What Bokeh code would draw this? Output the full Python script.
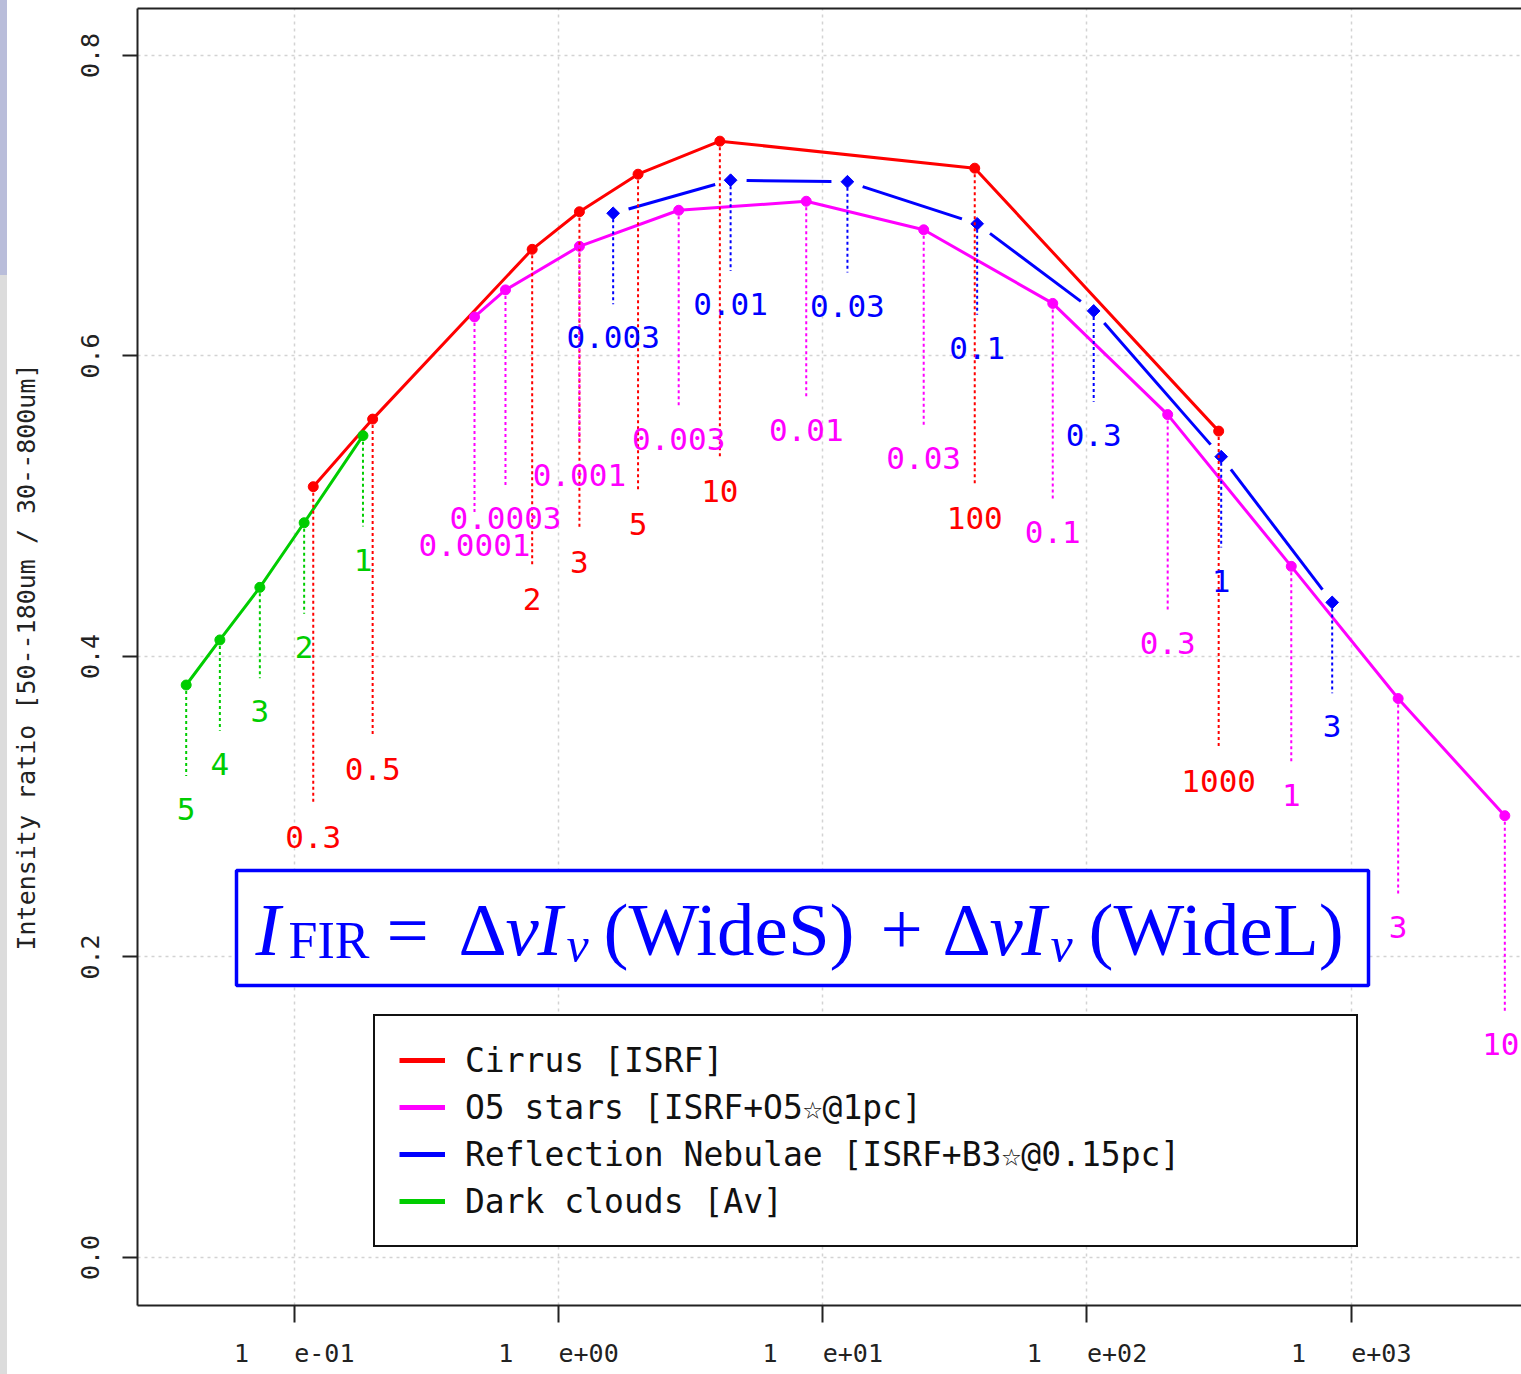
import math
import numpy as np
from bokeh.plotting import figure
from bokeh.models import (FixedTicker, LinearAxis, Legend, LegendItem, Label,
                          BoxAnnotation, Range1d, Div, PrintfTickFormatter)
from bokeh.layouts import row
from bokeh.core.properties import value
from bokeh.embed import file_html
from bokeh.resources import INLINE

# ---------------- data ----------------
cirrus_labels = ["0.3", "0.5", "2", "3", "5", "10", "100", "1000"]
cirrus_x = [0.118, 0.198, 0.795, 1.20, 2.00, 4.08, 37.6, 315.0]
cirrus_y = [0.513, 0.558, 0.671, 0.696, 0.721, 0.743, 0.725, 0.550]

o5_labels = ["0.0001", "0.0003", "0.001", "0.003", "0.01", "0.03", "0.1", "0.3", "1", "3", "10"]
o5_x = [0.481, 0.630, 1.20, 2.85, 8.66, 24.1, 74.2, 202.0, 593.0, 1505.0, 3812.0]
o5_y = [0.626, 0.644, 0.673, 0.697, 0.703, 0.684, 0.635, 0.561, 0.460, 0.372, 0.294]

rn_labels = ["0.003", "0.01", "0.03", "0.1", "0.3", "1", "3"]
rn_x = [1.61, 4.48, 12.4, 38.4, 106.0, 322.0, 847.0]
rn_y = [0.695, 0.717, 0.716, 0.688, 0.630, 0.533, 0.436]

dc_labels = ["5", "4", "3", "2", "1"]
dc_x = [0.0390, 0.0523, 0.0741, 0.109, 0.182]
dc_y = [0.381, 0.411, 0.446, 0.489, 0.547]

series_names = ["Cirrus [ISRF]", "O5 stars [ISRF+O5\u2606@1pc]",
                "Reflection Nebulae [ISRF+B3\u2606@0.15pc]", "Dark clouds [Av]"]

x_tick_values = [0.1, 1, 10, 100, 1000]
x_tick_labels = ["1   e-01", "1   e+00", "1   e+01", "1   e+02", "1   e+03"]
y_tick_values = [0.0, 0.2, 0.4, 0.6, 0.8]
y_title = "Intensity ratio [50--180um / 30--800um]"

# ---------------- style ----------------
RED, MAG, BLUE, GREEN = "#FF0000", "#FF00FF", "#0000FF", "#00CD00"
MONO = "DejaVu Sans Mono"
SERIF = "Liberation Serif"
LBL_FS = 31
STRIP = 7
FIG_W, FIG_H = 1521 - STRIP, 1374
BL, BT, BB, BR = 130, 8, 69, 0
FW = FIG_W - BL - BR
FH = FIG_H - BT - BB
LX0, LX1 = -1.5932, 3.6443
Y0, Y1 = -0.032, 0.8313
KX = FW / (LX1 - LX0)
KY = FH / (Y1 - Y0)


def fx(px):
    return 10 ** (LX0 + (px - STRIP - BL) / KX)


def fy(py):
    return Y1 - (py - BT) / KY


p = figure(width=FIG_W, height=FIG_H, x_axis_type="log",
           x_range=Range1d(10 ** LX0, 10 ** LX1), y_range=Range1d(Y0, Y1),
           output_backend="svg", toolbar_location=None,
           min_border_left=BL, min_border_right=BR, min_border_top=BT, min_border_bottom=BB)
p.outline_line_color = None
p.background_fill_color = "white"
p.border_fill_color = "white"

xt = FixedTicker(ticks=x_tick_values)
yt = FixedTicker(ticks=y_tick_values)
p.xaxis.ticker = xt
p.yaxis.ticker = yt
p.xaxis.major_label_overrides = {v: s.replace(" ", "\u00a0") for v, s in zip(x_tick_values, x_tick_labels)}
p.yaxis.formatter = PrintfTickFormatter(format="%.1f")
for ax in (p.xaxis, p.yaxis):
    ax.axis_line_width = 2
    ax.axis_line_color = "#222222"
    ax.major_tick_line_width = 2
    ax.major_tick_line_color = "#222222"
    ax.major_tick_in = 0
    ax.minor_tick_out = 0
    ax.minor_tick_in = 0
    ax.major_label_text_font = MONO
    ax.major_label_text_font_size = "25px"
    ax.major_label_text_color = "#222222"
p.xaxis.major_tick_out = 17
p.xaxis.major_label_standoff = 16
p.yaxis.major_tick_out = 15
p.yaxis.major_label_standoff = 23
p.yaxis.major_label_orientation = "vertical"
p.yaxis.axis_label = y_title
p.yaxis.axis_label_text_font = MONO
p.yaxis.axis_label_text_font_size = "25px"
p.yaxis.axis_label_text_font_style = "normal"
p.yaxis.axis_label_text_color = "#222222"
p.yaxis.axis_label_standoff = 38

top_ax = LinearAxis(ticker=FixedTicker(ticks=[]), major_tick_out=0, major_tick_in=0,
                    minor_tick_out=0, minor_tick_in=0, major_label_text_font_size="0px",
                    major_label_standoff=0, axis_line_width=2, axis_line_color="#222222")
p.add_layout(top_ax, "above")

for g, t in ((p.xgrid, xt), (p.ygrid, yt)):
    g.ticker = t
    g.grid_line_color = "#d3d3d3"
    g.grid_line_dash = "3 4"
    g.grid_line_width = 1.5

# ---------------- series ----------------
p.line(cirrus_x, cirrus_y, color=RED, line_width=3)
p.scatter(cirrus_x, cirrus_y, marker="circle", size=10, color=RED)

p.line(o5_x, o5_y, color=MAG, line_width=3)
p.scatter(o5_x, o5_y, marker="circle", size=10, color=MAG)

# reflection nebulae: R type="b" -> segments with gaps around points
GAP = 16
lx = np.log10(rn_x)
ry = np.array(rn_y)
sx0, sy0, sx1, sy1 = [], [], [], []
for i in range(len(lx) - 1):
    dlx, dy = lx[i + 1] - lx[i], ry[i + 1] - ry[i]
    L = math.hypot(dlx * KX, dy * KY)
    f = GAP / L
    sx0.append(10 ** (lx[i] + dlx * f)); sy0.append(ry[i] + dy * f)
    sx1.append(10 ** (lx[i + 1] - dlx * f)); sy1.append(ry[i + 1] - dy * f)
p.segment(sx0, sy0, sx1, sy1, color=BLUE, line_width=3)
p.scatter(rn_x, rn_y, marker="square", angle=math.pi / 4, size=9, color=BLUE)

p.line(dc_x, dc_y, color=GREEN, line_width=3)
p.scatter(dc_x, dc_y, marker="circle", size=10, color=GREEN)

# drop lines and parameter labels (labels nudged inward if they would cross the frame edge)
LBL_GAP = 0.022
for xs, ys, labs, col, off in ((cirrus_x, cirrus_y, cirrus_labels, RED, 0.233),
                               (o5_x, o5_y, o5_labels, MAG, 0.152),
                               (rn_x, rn_y, rn_labels, BLUE, 0.0825),
                               (dc_x, dc_y, dc_labels, GREEN, 0.0825)):
    ya = np.array(ys)
    p.segment(xs, ya, xs, ya - (off - LBL_GAP), color=col, line_width=2, line_dash="3 3")
    xoff = []
    for xv, lab in zip(xs, labs):
        pxr = (math.log10(xv) - LX0) * KX
        half = len(lab) * 0.602 * LBL_FS / 2
        xoff.append(min(0.0, FW - 2 - (pxr + half)))
    p.text(xs, ya - off, text=labs, x_offset=xoff, text_align="center", text_baseline="middle",
           text_font=value(MONO), text_font_size=f"{LBL_FS}px", text_color=col)

# ---------------- formula box ----------------
p.add_layout(BoxAnnotation(left=fx(236), right=fx(1368), top=fy(870), bottom=fy(985),
                           fill_color="white", fill_alpha=1.0,
                           line_color=BLUE, line_alpha=1.0, line_width=3.5, level="annotation"))
BASE_SHIFT = 28
pieces = [("I", 255, 957, 75, "italic"), ("FIR", 288, 968, 52, "normal"),
          ("=", 386, 957, 75, "normal"), ("\u0394", 458, 957, 75, "normal"),
          ("\u03bd", 505, 957, 75, "italic"), ("I", 537, 957, 75, "italic"),
          ("\u03bd", 566, 972, 50, "italic"), ("(WideS)", 603, 957, 75, "normal"),
          ("+", 880, 957, 75, "normal"), ("\u0394", 942, 957, 75, "normal"),
          ("\u03bd", 989, 957, 75, "italic"), ("I", 1021, 957, 75, "italic"),
          ("\u03bd", 1050, 972, 50, "italic"), ("(WideL)", 1088, 957, 75, "normal")]
for txt, px, py, fs, st in pieces:
    p.add_layout(Label(x=fx(px), y=fy(py - BASE_SHIFT), text=txt, text_font=SERIF,
                       text_font_size=f"{fs}px", text_font_style=st, text_color=BLUE,
                       text_align="left", text_baseline="alphabetic"))

# ---------------- legend ----------------
dummies = [p.line(x=[np.nan, np.nan], y=[np.nan, np.nan], color=c, line_width=5)
           for c in (RED, MAG, BLUE, GREEN)]
legend = Legend(items=[LegendItem(label=n, renderers=[r]) for n, r in zip(series_names, dummies)],
                location=(373 - STRIP - BL, FIG_H - BB - 1247), orientation="vertical",
                label_text_font=MONO, label_text_font_size="33px", label_text_color="#111111",
                glyph_width=46, glyph_height=40, label_height=40, spacing=7, padding=24,
                margin=0, label_standoff=20, label_width=867,
                border_line_color="#111111", border_line_width=2, border_line_alpha=1.0,
                background_fill_color="white", background_fill_alpha=1.0)
p.add_layout(legend)

strip = Div(text="", width=STRIP, height=FIG_H, margin=0,
            styles={"background": "linear-gradient(#b9bdda 0px, #b9bdda 275px, #dcdcdc 275px, #dcdcdc 100%)"})
layout = row(strip, p, spacing=0)

open("out.html", "w").write(file_html(layout, INLINE))
